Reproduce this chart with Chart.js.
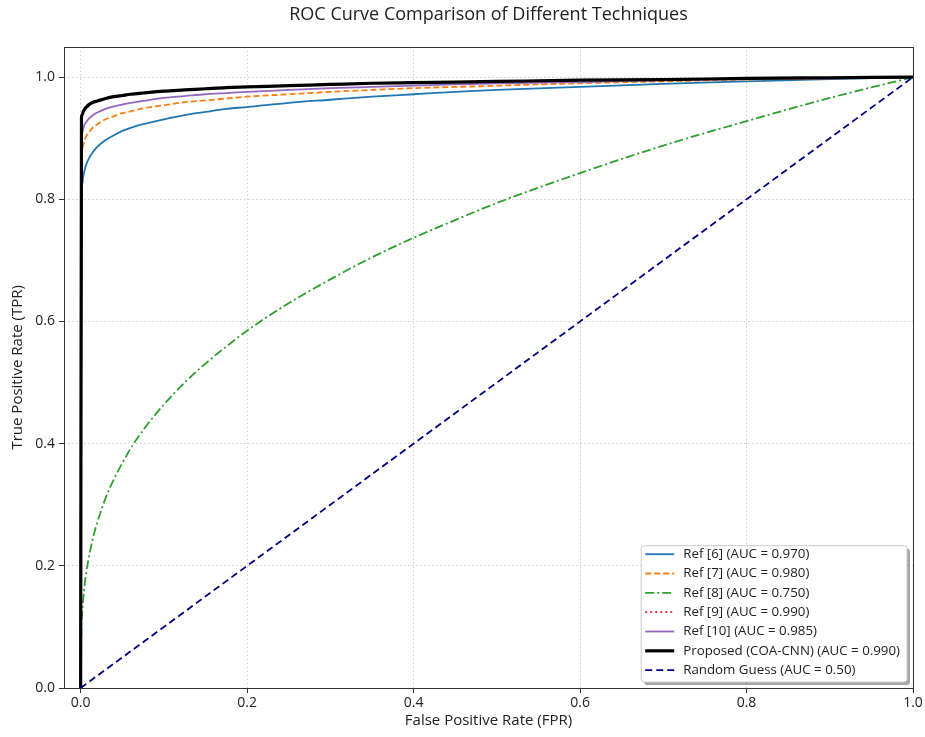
<!DOCTYPE html>
<html>
<head>
<meta charset="utf-8">
<script src="https://cdn.jsdelivr.net/npm/chart.js@4.4.1/dist/chart.umd.min.js"></script>
<style>
  html, body { margin: 0; padding: 0; background: #fff; }
  #wrap { width: 925px; height: 737px; }
</style>
</head>
<body>
<div id="wrap"><canvas id="c" width="925" height="737"></canvas></div>
<script>
// ---- data ----
const fpr = [0, 0.001, 0.002, 0.003, 0.005, 0.007, 0.01, 0.015, 0.02, 0.03, 0.04, 0.05, 0.06, 0.075, 0.1, 0.125, 0.15, 0.175, 0.2, 0.25, 0.3, 0.35, 0.4, 0.45, 0.5, 0.6, 0.7, 0.8, 0.9, 1.0];
const tprRef6 = [0, 0.808, 0.825, 0.836, 0.849, 0.858, 0.867, 0.878, 0.886, 0.897, 0.905, 0.912, 0.917, 0.923, 0.931, 0.938, 0.943, 0.948, 0.951, 0.958, 0.963, 0.968, 0.972, 0.976, 0.979, 0.984, 0.989, 0.993, 0.997, 1.0];
const tprRef7 = [0, 0.869, 0.881, 0.888, 0.898, 0.904, 0.910, 0.918, 0.923, 0.931, 0.936, 0.941, 0.944, 0.949, 0.954, 0.959, 0.962, 0.965, 0.968, 0.972, 0.976, 0.979, 0.982, 0.984, 0.986, 0.990, 0.993, 0.996, 0.998, 1.0];
const tprRef8 = [0, 0.100, 0.126, 0.144, 0.171, 0.191, 0.215, 0.247, 0.271, 0.311, 0.342, 0.368, 0.392, 0.422, 0.464, 0.500, 0.531, 0.559, 0.585, 0.630, 0.669, 0.705, 0.737, 0.766, 0.794, 0.843, 0.888, 0.928, 0.966, 1.0];
const tprRef9 = [0, 0.933, 0.939, 0.943, 0.948, 0.951, 0.955, 0.959, 0.961, 0.965, 0.968, 0.970, 0.972, 0.974, 0.977, 0.979, 0.981, 0.983, 0.984, 0.986, 0.988, 0.990, 0.991, 0.992, 0.993, 0.995, 0.996, 0.998, 0.999, 1.0];
const tprRef10 = [0, 0.900, 0.910, 0.915, 0.923, 0.927, 0.932, 0.938, 0.942, 0.948, 0.952, 0.955, 0.958, 0.961, 0.966, 0.969, 0.972, 0.974, 0.976, 0.979, 0.982, 0.984, 0.986, 0.988, 0.990, 0.992, 0.995, 0.997, 0.998, 1.0];
const tprProposed = [0, 0.933, 0.939, 0.943, 0.948, 0.951, 0.955, 0.959, 0.961, 0.965, 0.968, 0.970, 0.972, 0.974, 0.977, 0.979, 0.981, 0.983, 0.984, 0.986, 0.988, 0.990, 0.991, 0.992, 0.993, 0.995, 0.996, 0.998, 0.999, 1.0];
const randomX = [0, 1];
const randomY = [0, 1];
const seriesLabels = [
  'Ref [6] (AUC = 0.970)',
  'Ref [7] (AUC = 0.980)',
  'Ref [8] (AUC = 0.750)',
  'Ref [9] (AUC = 0.990)',
  'Ref [10] (AUC = 0.985)',
  'Proposed (COA-CNN) (AUC = 0.990)',
  'Random Guess (AUC = 0.50)'
];
const xTicks = [0, 0.2, 0.4, 0.6, 0.8, 1.0];
const yTicks = [0, 0.2, 0.4, 0.6, 0.8, 1.0];

const FONT = "'Open Sans', 'DejaVu Sans', sans-serif";

function pts(xs, ys) { return xs.map((x, i) => ({ x: x, y: ys[i] })); }

const styles = [
  { color: '#1f77b4', width: 1.8, dash: [] },
  { color: '#ff7f0e', width: 1.8, dash: [6, 3] },
  { color: '#2ca02c', width: 1.8, dash: [9, 3, 2, 3] },
  { color: '#d62728', width: 1.8, dash: [2, 3] },
  { color: '#9467bd', width: 1.8, dash: [] },
  { color: '#000000', width: 3.2, dash: [] },
  { color: '#000080', width: 1.8, dash: [7, 4] }
];
const seriesY = [tprRef6, tprRef7, tprRef8, tprRef9, tprRef10, tprProposed];

const datasets = seriesY.map((ys, i) => ({
  label: seriesLabels[i],
  data: pts(fpr, ys),
  borderColor: styles[i].color,
  borderWidth: styles[i].width,
  borderDash: styles[i].dash,
  pointRadius: 0,
  fill: false,
  cubicInterpolationMode: 'monotone',
  order: 7 - i
}));
datasets.push({
  label: seriesLabels[6],
  data: pts(randomX, randomY),
  borderColor: styles[6].color,
  borderWidth: styles[6].width,
  borderDash: styles[6].dash,
  pointRadius: 0,
  fill: false,
  order: 0
});

const framePlugin = {
  id: 'frame',
  afterDatasetsDraw(chart) {
    const { ctx, chartArea: a } = chart;
    ctx.save();
    ctx.strokeStyle = '#333';
    ctx.lineWidth = 1;
    ctx.setLineDash([]);
    ctx.strokeRect(Math.round(a.left) + 0.5, Math.round(a.top) + 0.5, Math.round(a.right - a.left), Math.round(a.bottom - a.top));
    ctx.restore();
  }
};

const legendPlugin = {
  id: 'innerLegend',
  afterDraw(chart) {
    const { ctx, chartArea: a } = chart;
    ctx.save();
    ctx.font = '13.3px ' + FONT;
    const rowH = 19.33;
    const sampleLen = 29;
    let maxW = 0;
    chart.data.datasets.forEach(d => { maxW = Math.max(maxW, ctx.measureText(d.label).width); });
    const boxW = 4 + sampleLen + 9 + maxW + 7;
    const boxH = rowH * chart.data.datasets.length + 1;
    const x0 = a.right - 6 - boxW;
    const y0 = a.bottom - 6 - boxH;
    // shadow
    ctx.fillStyle = 'rgba(0,0,0,0.35)';
    roundRect(ctx, x0 + 3, y0 + 3, boxW, boxH, 3);
    ctx.fill();
    ctx.fillStyle = '#fff';
    roundRect(ctx, x0, y0, boxW, boxH, 3);
    ctx.fill();
    ctx.strokeStyle = '#cccccc';
    ctx.lineWidth = 1;
    ctx.stroke();
    ctx.textBaseline = 'middle';
    chart.data.datasets.forEach((d, i) => {
      const cy = y0 + 8.5 + rowH * i;
      ctx.beginPath();
      ctx.setLineDash(d.borderDash || []);
      ctx.strokeStyle = d.borderColor;
      ctx.lineWidth = d.borderWidth;
      ctx.moveTo(x0 + 4, cy);
      ctx.lineTo(x0 + 4 + sampleLen, cy);
      ctx.stroke();
      ctx.setLineDash([]);
      ctx.fillStyle = '#222';
      ctx.fillText(d.label, x0 + 4 + sampleLen + 9, cy);
    });
    ctx.restore();
  }
};

function roundRect(ctx, x, y, w, h, r) {
  ctx.beginPath();
  ctx.moveTo(x + r, y);
  ctx.lineTo(x + w - r, y);
  ctx.quadraticCurveTo(x + w, y, x + w, y + r);
  ctx.lineTo(x + w, y + h - r);
  ctx.quadraticCurveTo(x + w, y + h, x + w - r, y + h);
  ctx.lineTo(x + r, y + h);
  ctx.quadraticCurveTo(x, y + h, x, y + h - r);
  ctx.lineTo(x, y + r);
  ctx.quadraticCurveTo(x, y, x + r, y);
  ctx.closePath();
}

const gridCfg = {
  color: 'rgba(0,0,0,0.2)',
  lineWidth: 1,
  drawTicks: true,
  tickLength: 5,
  tickColor: '#333',
  tickBorderDash: [],
  tickWidth: 1
};
const borderCfg = { display: false, dash: [1.5, 2.5] };

new Chart(document.getElementById('c'), {
  type: 'line',
  data: { datasets: datasets },
  options: {
    responsive: false,
    animation: false,
    layout: { padding: { left: 0, right: 12, top: 0, bottom: 0 } },
    plugins: {
      legend: { display: false },
      tooltip: { enabled: false },
      title: {
        display: true,
        fullSize: false,
        text: 'ROC Curve Comparison of Different Techniques',
        color: '#222',
        font: { family: FONT, size: 18, weight: 'normal' },
        padding: { top: 4, bottom: 21 }
      }
    },
    scales: {
      x: {
        type: 'linear',
        min: -0.02,
        max: 1.0,
        afterBuildTicks: s => { s.ticks = xTicks.map(v => ({ value: v })); },
        afterFit: s => { s.height = 49; },
        ticks: {
          includeBounds: false,
          color: '#222',
          font: { family: FONT, size: 14 },
          padding: 2,
          maxRotation: 0,
          callback: v => Number(v).toFixed(1)
        },
        grid: gridCfg,
        border: borderCfg,
        title: {
          display: true,
          text: 'False Positive Rate (FPR)',
          color: '#222',
          font: { family: FONT, size: 15 },
          padding: { top: 0, bottom: 7 }
        }
      },
      y: {
        type: 'linear',
        min: 0,
        max: 1.05,
        afterBuildTicks: s => { s.ticks = yTicks.map(v => ({ value: v })); },
        afterFit: s => { s.width = 64; },
        ticks: {
          includeBounds: false,
          color: '#222',
          font: { family: FONT, size: 14 },
          padding: 4,
          callback: v => Number(v).toFixed(1)
        },
        grid: gridCfg,
        border: borderCfg,
        title: {
          display: true,
          text: 'True Positive Rate (TPR)',
          color: '#222',
          font: { family: FONT, size: 15 },
          padding: { top: 9, bottom: 0 }
        }
      }
    }
  },
  plugins: [framePlugin, legendPlugin]
});
</script>
</body>
</html>
